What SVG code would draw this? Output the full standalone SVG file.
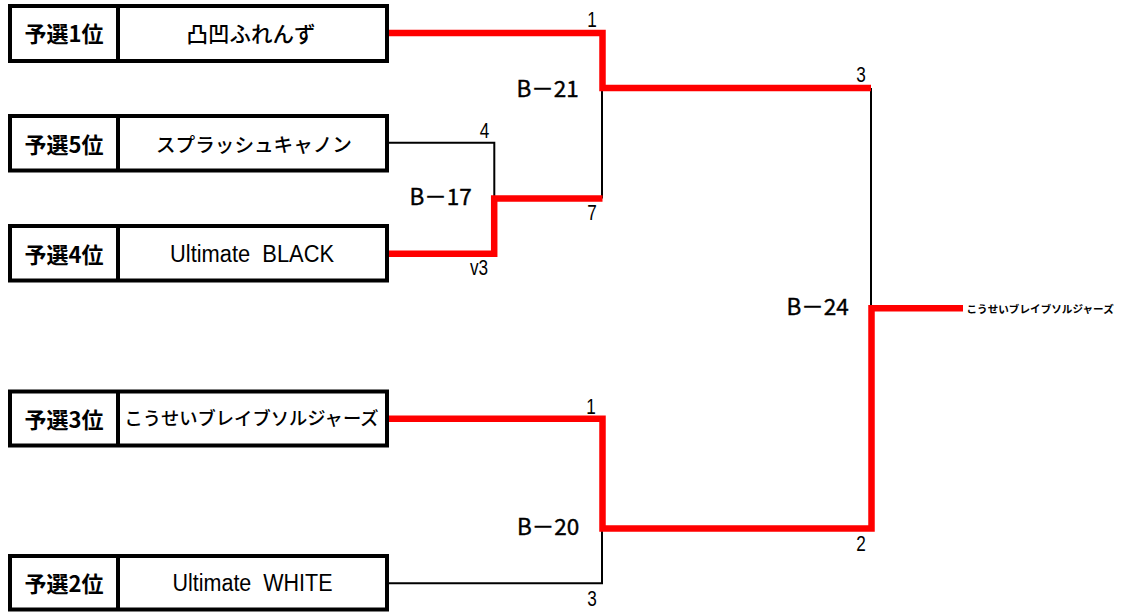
<svg xmlns="http://www.w3.org/2000/svg" width="1124" height="612" viewBox="0 0 1124 612">
<style>
.box{fill:#fff;stroke:#000;stroke-width:4}
.div{stroke:#000;stroke-width:4}
.seed{font-family:"Noto Sans CJK JP",sans-serif;font-weight:bold;font-size:22px;fill:#000;text-anchor:middle;dominant-baseline:central}
.team{font-family:"Noto Sans CJK JP",sans-serif;font-weight:500;fill:#000;text-anchor:middle;dominant-baseline:central}
.lat{font-family:"Liberation Sans",sans-serif;font-size:23.5px;fill:#000;text-anchor:middle;white-space:pre}
.num{font-family:"Liberation Sans",sans-serif;font-size:22px;fill:#000;text-anchor:middle}
.mid{font-family:"Noto Sans CJK JP",sans-serif;font-weight:normal;font-size:22.5px;fill:#000;stroke:#000;stroke-width:0.4}
.win{fill:none;stroke:#f00;stroke-width:6.5;stroke-linejoin:miter;stroke-linecap:butt}
.lose{fill:none;stroke:#000;stroke-width:2;stroke-linecap:butt}
</style>
<rect width="1124" height="612" fill="#fff"/>
<g id="connectors">
<path class="lose" d="M871,88 V306"/>
<path class="lose" d="M387,142.7 H494.3 V198.5"/>
<path class="lose" d="M602,88 V198.5"/>
<path class="lose" d="M387,583.3 H602 V528.5"/>
<path class="win" d="M387,33 H602.5 V88 H871"/>
<path class="win" d="M387,253.7 H494.2 V198.5 H602.5"/>
<path class="win" d="M387,418.7 H602.5 V528.5 H871.5 V308.3 H963"/>
</g>
<g id="seed1">
<rect class="box" x="10" y="6" width="377" height="55"/>
<line class="div" x1="118" y1="6" x2="118" y2="61"/>
<text class="seed" x="64" y="32">予選1位</text>
<text class="team" x="251" y="32" font-size="21.5">凸凹ふれんず</text>
</g>
<g id="seed5">
<rect class="box" x="10" y="116" width="377" height="54.5"/>
<line class="div" x1="118" y1="116" x2="118" y2="170.5"/>
<text class="seed" x="64" y="142.5">予選5位</text>
<text class="team" x="254" y="143.5" font-size="19.6">スプラッシュキャノン</text>
</g>
<g id="seed4">
<rect class="box" x="10" y="226" width="377" height="54.5"/>
<line class="div" x1="118" y1="226" x2="118" y2="280.5"/>
<text class="seed" x="64" y="252.5">予選4位</text>
<text class="lat" x="252" y="261.5" textLength="164" lengthAdjust="spacingAndGlyphs" xml:space="preserve">Ultimate  BLACK</text>
</g>
<g id="seed3">
<rect class="box" x="10" y="391.5" width="377" height="54"/>
<line class="div" x1="118" y1="391.5" x2="118" y2="445.5"/>
<text class="seed" x="64" y="417.5">予選3位</text>
<text class="team" x="251.5" y="417" font-size="18.3">こうせいブレイブソルジャーズ</text>
</g>
<g id="seed2">
<rect class="box" x="10" y="556" width="377" height="53.5"/>
<line class="div" x1="118" y1="556" x2="118" y2="609.5"/>
<text class="seed" x="64" y="582">予選2位</text>
<text class="lat" x="252.5" y="590.7" textLength="160" lengthAdjust="spacingAndGlyphs" xml:space="preserve">Ultimate  WHITE</text>
</g>
<g id="match-labels">
<text class="mid" x="516.5" y="96.5">B－21</text>
<text class="mid" x="409.5" y="205">B－17</text>
<text class="mid" x="517" y="535.3">B－20</text>
<text class="mid" x="786.5" y="315">B－24</text>
</g>
<g id="scores">
<text class="num" transform="translate(592,27) scale(0.78,1)">1</text>
<text class="num" transform="translate(861,82) scale(0.78,1)">3</text>
<text class="num" transform="translate(484.5,137.5) scale(0.78,1)">4</text>
<text class="num" transform="translate(592,220) scale(0.78,1)">7</text>
<text class="num" transform="translate(479,275) scale(0.78,1)">v3</text>
<text class="num" transform="translate(591,414) scale(0.78,1)">1</text>
<text class="num" transform="translate(861,551) scale(0.78,1)">2</text>
<text class="num" transform="translate(592,606) scale(0.78,1)">3</text>
</g>
<g id="champion">
<text x="966.5" y="308.5" font-family="'Noto Sans CJK JP',sans-serif" font-size="10.6" font-weight="bold" dominant-baseline="central" fill="#000">こうせいブレイブソルジャーズ</text>
</g>
</svg>
